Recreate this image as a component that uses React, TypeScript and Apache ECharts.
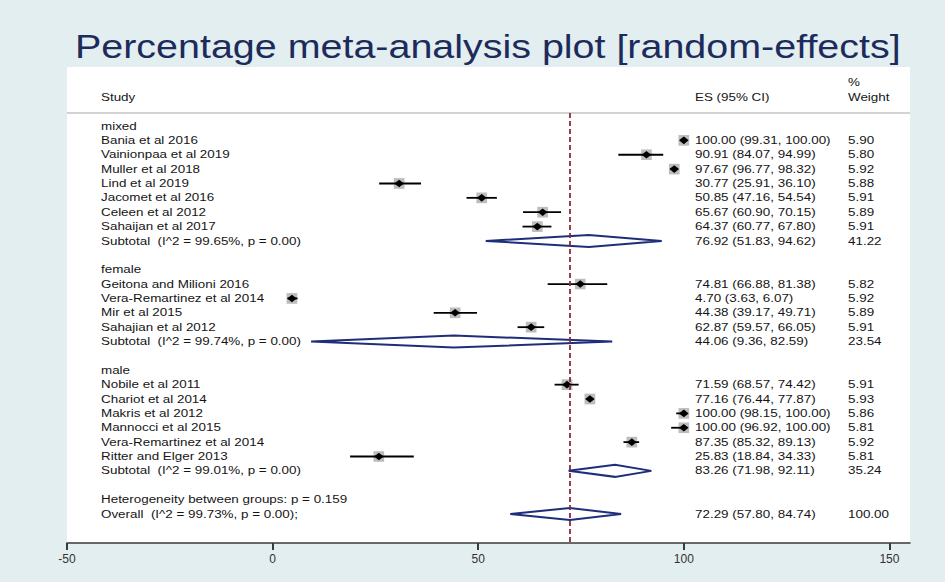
import React, { useEffect, useRef } from "react";
import * as echarts from "echarts";

const groupNames = ["mixed", "female", "male"];

const studyNames = [
  "Bania et al 2016", "Vainionpaa et al 2019", "Muller et al 2018", "Lind et al 2019",
  "Jacomet et al 2016", "Celeen et al 2012", "Sahaijan et al 2017",
  "Geitona and Milioni 2016", "Vera-Remartinez et al 2014", "Mir et al 2015", "Sahajian et al 2012",
  "Nobile et al 2011", "Chariot et al 2014", "Makris et al 2012", "Mannocci et al 2015",
  "Vera-Remartinez et al 2014", "Ritter and Elger 2013",
];
const studyGroup = [0, 0, 0, 0, 0, 0, 0, 1, 1, 1, 1, 2, 2, 2, 2, 2, 2];
const studyES = [100.0, 90.91, 97.67, 30.77, 50.85, 65.67, 64.37, 74.81, 4.7, 44.38, 62.87, 71.59, 77.16, 100.0, 100.0, 87.35, 25.83];
const studyLo = [99.31, 84.07, 96.77, 25.91, 47.16, 60.9, 60.77, 66.88, 3.63, 39.17, 59.57, 68.57, 76.44, 98.15, 96.92, 85.32, 18.84];
const studyHi = [100.0, 94.99, 98.32, 36.1, 54.54, 70.15, 67.8, 81.38, 6.07, 49.71, 66.05, 74.42, 77.87, 100.0, 100.0, 89.13, 34.33];
const studyWeight = [5.9, 5.8, 5.92, 5.88, 5.91, 5.89, 5.91, 5.82, 5.92, 5.89, 5.91, 5.91, 5.93, 5.86, 5.81, 5.92, 5.81];

const subtotalLabels = [
  "Subtotal  (I^2 = 99.65%, p = 0.00)",
  "Subtotal  (I^2 = 99.74%, p = 0.00)",
  "Subtotal  (I^2 = 99.01%, p = 0.00)",
];
const subtotalES = [76.92, 44.06, 83.26];
const subtotalLo = [51.83, 9.36, 71.98];
const subtotalHi = [94.62, 82.59, 92.11];
const subtotalWeight = [41.22, 23.54, 35.24];

const heterogeneityLabel = "Heterogeneity between groups: p = 0.159";
const overallLabel = "Overall  (I^2 = 99.73%, p = 0.00);";
const overallES = 72.29;
const overallLo = 57.8;
const overallHi = 84.74;
const overallWeight = 100.0;

const xTicks = [-50, 0, 50, 100, 150];

const FONT = '"Liberation Sans", Arial, Helvetica, sans-serif';
const SX = 1.22;
const TEXT_COLOR = "#151515";

type Row = {
  row: number;
  kind: "group" | "study" | "subtotal" | "het" | "overall";
  label: string;
  es?: number;
  lo?: number;
  hi?: number;
  w?: number;
};

function buildRows(): Row[] {
  const rows: Row[] = [];
  let r = 0;
  groupNames.forEach((g, gi) => {
    rows.push({ row: r++, kind: "group", label: g });
    studyNames.forEach((n, i) => {
      if (studyGroup[i] === gi) {
        rows.push({ row: r++, kind: "study", label: n, es: studyES[i], lo: studyLo[i], hi: studyHi[i], w: studyWeight[i] });
      }
    });
    rows.push({ row: r++, kind: "subtotal", label: subtotalLabels[gi], es: subtotalES[gi], lo: subtotalLo[gi], hi: subtotalHi[gi], w: subtotalWeight[gi] });
    r++;
  });
  rows.push({ row: r++, kind: "het", label: heterogeneityLabel });
  rows.push({ row: r++, kind: "overall", label: overallLabel, es: overallES, lo: overallLo, hi: overallHi, w: overallWeight });
  return rows;
}

const fmt = (v: number) => v.toFixed(2);

function txt(text: string, x: number, y: number, size = 11, extra: any = {}, sx = SX) {
  return {
    type: "text",
    x,
    y,
    scaleX: sx,
    z: 10,
    style: {
      text,
      x: 0,
      y: 0,
      fill: TEXT_COLOR,
      font: `${size}px ${FONT}`,
      align: "left",
      verticalAlign: "middle",
      ...extra,
    },
  };
}

export default function App() {
  const ref = useRef<HTMLDivElement>(null);

  useEffect(() => {
    if (!ref.current) return;
    const chart = echarts.init(ref.current, null, { renderer: "svg" });
    const rows = buildRows();
    const studyRows = rows.filter((r) => r.kind === "study");
    const pooledRows = rows.filter((r) => r.kind === "subtotal" || r.kind === "overall");

    const option: any = {
      animation: false,
      backgroundColor: "#e3eef0",
      grid: {
        left: 67,
        right: 35,
        top: 67,
        bottom: 39,
        show: true,
        backgroundColor: "#ffffff",
        borderWidth: 0,
      },
      xAxis: {
        type: "value",
        min: -50,
        max: 155,
        splitLine: { show: false },
        axisLine: { show: true, onZero: false, lineStyle: { color: "#3a3a3a", width: 1.5 } },
        axisTick: { show: true, length: 7, customValues: xTicks, lineStyle: { color: "#3a3a3a", width: 2 } },
        axisLabel: {
          customValues: xTicks,
          margin: 10,
          fontSize: 12,
          fontFamily: FONT,
          color: "#333333",
        },
      },
      yAxis: {
        type: "value",
        inverse: true,
        min: -4.106,
        max: 29.02,
        show: false,
        splitLine: { show: false },
      },
      graphic: [
        txt("Percentage meta-analysis plot [random-effects]", 75, 47, 33, { fill: "#1c2b5c" }, 1.195),
        txt("Study", 101, 97),
        txt("ES (95% CI)", 695, 97),
        txt("%", 848, 82),
        txt("Weight", 848, 97),
        {
          type: "line",
          z: 5,
          shape: { x1: 67, y1: 113, x2: 910, y2: 113 },
          style: { stroke: "#d2d2d2", lineWidth: 2 },
        },
      ],
      series: [
        {
          type: "custom",
          name: "text",
          silent: true,
          clip: false,
          data: rows.map((r) => [0, r.row]),
          encode: { x: 0, y: 1 },
          renderItem: (params: any, api: any) => {
            const r = rows[params.dataIndex];
            const y = api.coord([0, api.value(1)])[1];
            const children: any[] = [txt(r.label, 101, y)];
            if (r.es !== undefined) {
              children.push(txt(`${fmt(r.es)} (${fmt(r.lo!)}, ${fmt(r.hi!)})`, 695, y));
              children.push(txt(fmt(r.w!), 848, y));
            }
            return { type: "group", children };
          },
        },
        {
          type: "custom",
          name: "studies",
          silent: true,
          data: studyRows.map((r) => [r.es, r.row, r.lo, r.hi, r.w]),
          encode: { x: 0, y: 1 },
          renderItem: (params: any, api: any) => {
            const row = api.value(1);
            const p = api.coord([api.value(0), row]);
            const pl = api.coord([api.value(2), row]);
            const ph = api.coord([api.value(3), row]);
            const side = 4.4 * Math.sqrt(api.value(4));
            return {
              type: "group",
              children: [
                {
                  type: "rect",
                  shape: { x: p[0] - side / 2, y: p[1] - side / 2, width: side, height: side },
                  style: { fill: "#bdbdbd" },
                },
                {
                  type: "line",
                  shape: { x1: pl[0], y1: p[1], x2: ph[0], y2: p[1] },
                  style: { stroke: "#000000", lineWidth: 1.8 },
                },
                {
                  type: "polygon",
                  shape: {
                    points: [
                      [p[0] - 4.8, p[1]],
                      [p[0], p[1] - 3.8],
                      [p[0] + 4.8, p[1]],
                      [p[0], p[1] + 3.8],
                    ],
                  },
                  style: { fill: "#000000" },
                },
              ],
            };
          },
        },
        {
          type: "custom",
          name: "pooled",
          silent: true,
          data: pooledRows.map((r) => [r.es, r.row, r.lo, r.hi]),
          encode: { x: 0, y: 1 },
          renderItem: (params: any, api: any) => {
            const row = api.value(1);
            const p = api.coord([api.value(0), row]);
            const pl = api.coord([api.value(2), row]);
            const ph = api.coord([api.value(3), row]);
            return {
              type: "polygon",
              shape: {
                points: [
                  [pl[0], p[1]],
                  [p[0], p[1] - 6],
                  [ph[0], p[1]],
                  [p[0], p[1] + 6],
                ],
              },
              style: { fill: "none", stroke: "#1f2e7a", lineWidth: 2 },
            };
          },
          markLine: {
            silent: true,
            symbol: "none",
            label: { show: false },
            lineStyle: { color: "#8e2a3a", type: [5, 3], width: 1.8 },
            data: [[{ coord: [overallES, -0.9] }, { coord: [overallES, 29.02] }]],
          },
        },
      ],
    };
    chart.setOption(option);
    return () => chart.dispose();
  }, []);

  return (
    <div
      ref={ref}
      style={{ position: "fixed", left: 0, top: 0, width: 945, height: 582 }}
    />
  );
}
